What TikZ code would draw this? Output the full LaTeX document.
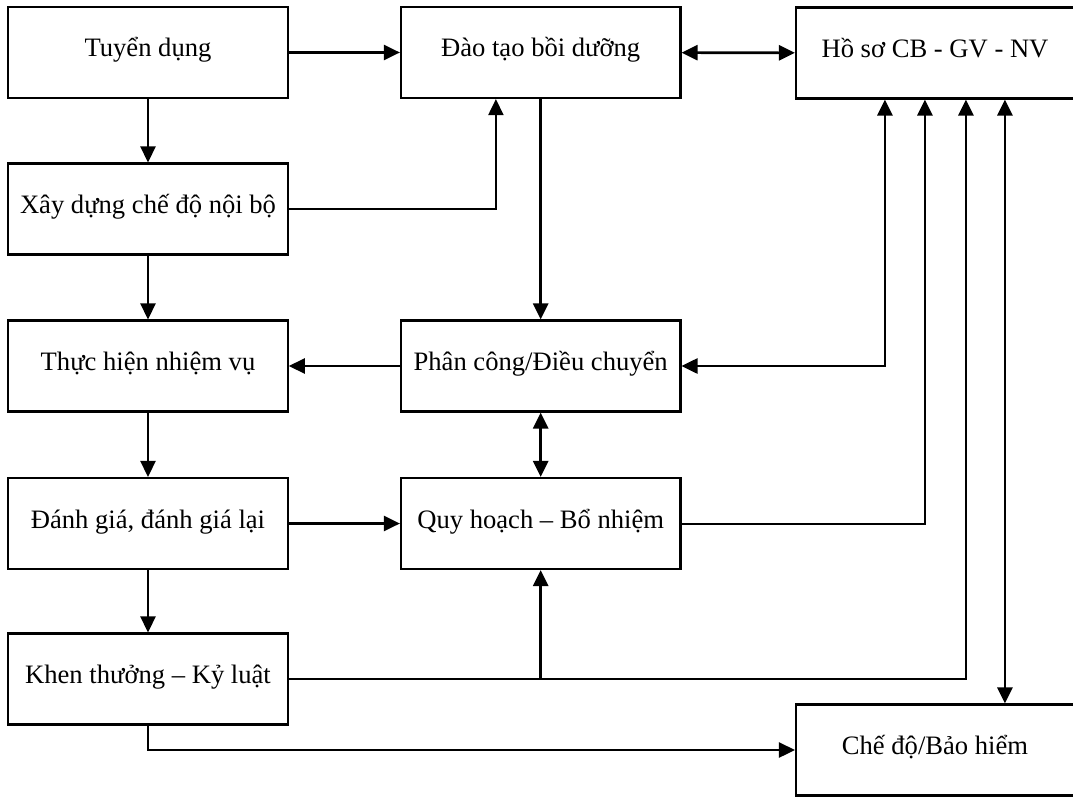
\documentclass[tikz,border=0pt]{standalone}
\usepackage{fontspec}
\setmainfont{Liberation Serif}
\usetikzlibrary{arrows.meta,calc}

\tikzset{
  box/.style={draw, line width=2.1pt, rectangle, minimum width=279.5pt,
    minimum height=91pt, inner sep=0pt, text height=20pt, text depth=11pt,
    font=\fontsize{26.6}{30}\selectfont},
  tip/.tip={Triangle[length=16pt,width=15pt]},
  arr/.style={line width=2.6pt, -tip},
  darr/.style={line width=2.6pt, tip-tip},
  thin/.style={line width=2pt}
}

\begin{document}
\begin{tikzpicture}[x=1pt,y=-1pt]
\useasboundingbox (0,0) rectangle (1073,797);

% left column
\node[box] (tuyen) at (148,52.5) {Tuyển dụng};
\node[box] (xay)   at (148,209)  {Xây dựng chế độ nội bộ};
\node[box] (thuc)  at (148,366)  {Thực hiện nhiệm vụ};
\node[box] (danh)  at (148,523.5) {Đánh giá, đánh giá lại};
\node[box] (khen)  at (148,679)  {Khen thưởng – Kỷ luật};

% middle column
\node[box] (dao)   at (540.7,52.5) {Đào tạo bồi dưỡng};
\node[box] (phan)  at (540.7,366)  {Phân công/Điều chuyển};
\node[box] (quy)   at (540.7,523.5) {Quy hoạch – Bổ nhiệm};

% right column
\node[box, minimum width=278pt] (hoso)  at (935,53)  {Hồ sơ CB - GV - NV};
\node[box, minimum width=278pt] (chedo) at (935,750) {Chế độ/Bảo hiểm};

% attachment points on the bottom of the records box
\coordinate (h1) at ([xshift=90pt]hoso.south west);
\coordinate (h2) at ([xshift=130pt]hoso.south west);
\coordinate (h3) at ([xshift=171pt]hoso.south west);
\coordinate (h4) at ([xshift=210pt]hoso.south west);
\coordinate (d1) at ([xshift=96pt]dao.south west);

% left column flow
\draw[arr] (tuyen) -- (xay);
\draw[arr] (xay) -- (thuc);
\draw[arr] (thuc) -- (danh);
\draw[arr] (danh) -- (khen);

% horizontal links
\draw[arr] (tuyen) -- (dao);
\draw[darr] (dao) -- (hoso);
\draw[arr] (phan) -- (thuc);
\draw[arr] (danh) -- (quy);

% training links
\draw[thin, -tip] (xay.east) -| (d1);
\draw[arr] (dao) -- (phan);
\draw[darr] (phan) -- (quy);

% links to the records box
\draw[darr] (phan.east) -| (h1);
\draw[thin] (quy.east) -| ($(h2)+(0,425)$);
\draw[arr] ($(h2)+(0,425)$) -- (h2);
\draw[arr] (khen.east) -| (h3);
\draw[arr] (quy.south |- khen.east) -- (quy.south);
\draw[darr] (h4) -- (h4 |- chedo.north);

% rewards to benefits
\draw[arr] (khen.south) |- (chedo.west);
\end{tikzpicture}
\end{document}
